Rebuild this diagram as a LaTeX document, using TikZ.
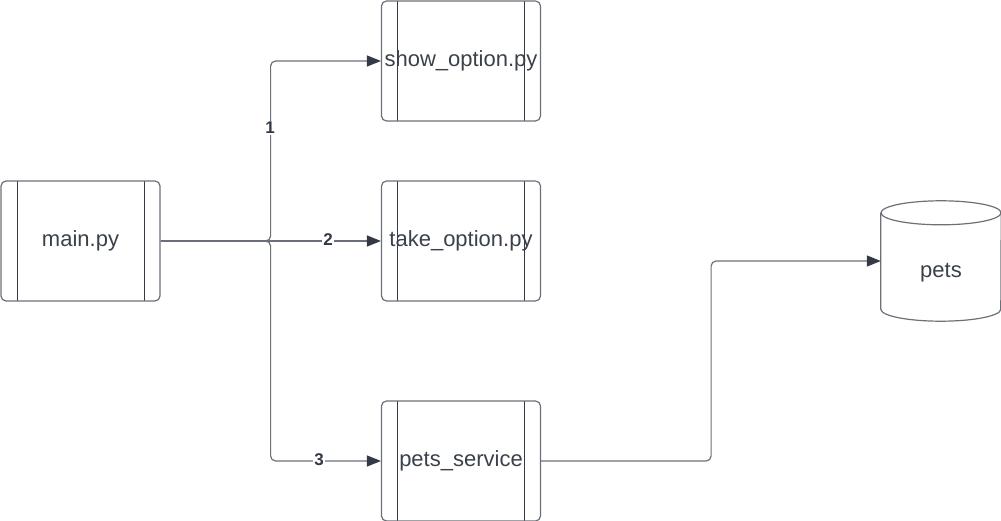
\documentclass[tikz,border=0pt]{standalone}
\usepackage{fontspec}
\setmainfont{Liberation Sans}
\usetikzlibrary{arrows.meta}

\definecolor{linegray}{HTML}{6B7078}
\definecolor{inkdark}{HTML}{333A45}
\definecolor{textgray}{HTML}{3A414B}

\tikzset{
  module/.style={draw=linegray, line width=1.2pt, rounded corners=5pt,
    minimum width=159pt, minimum height=120pt, inner sep=0pt,
    text=textgray, font=\fontsize{22}{26}\selectfont,
    path picture={
      \draw[inkdark, line width=0.9pt]
        ([xshift=16pt]path picture bounding box.north west) --
        ([xshift=16pt]path picture bounding box.south west);
      \draw[inkdark, line width=0.9pt]
        ([xshift=-16pt]path picture bounding box.north east) --
        ([xshift=-16pt]path picture bounding box.south east);
    }},
  store/.style={minimum width=120pt, minimum height=120pt, inner sep=0pt,
    text=textgray, font=\fontsize{22}{26}\selectfont},
  rim/.style={draw=linegray, line width=1.2pt},
  link/.style={draw=linegray, line width=1.2pt, rounded corners=5pt,
    -{Triangle[length=14pt,width=11pt,fill=inkdark,color=inkdark]}},
  tag/.style={fill=white, inner sep=1pt, text=inkdark,
    font=\fontsize{17}{20}\selectfont\bfseries}
}

\begin{document}
\begin{tikzpicture}[x=1pt, y=-1pt]
    \useasboundingbox (0, 0) rectangle (1001, 521);

    \node [module] (main) at (80.5, 241) {main.py};
    \node [module] (show) at (461, 61) {show\_option.py};
    \node [module] (take) at (461, 241) {take\_option.py};
    \node [module] (svc) at (461, 461) {pets\_service};
    \node [store] (pets) at (941, 261) {\raisebox{-17pt}[0pt][0pt]{pets}};

    % cylinder outline round the pets node
    \draw [rim] ([yshift=-12pt]pets.north) ellipse [x radius=60pt, y radius=12pt];
    \draw [rim] ([yshift=-12pt]pets.north west) -- ([yshift=12pt]pets.south west)
      arc [start angle=180, end angle=360, x radius=60pt, y radius=12pt]
      -- ([yshift=-12pt]pets.north east);

    \draw [link] (main.east) -- ++(110, 0) |- (show.west);
    \draw [link] (main.east) -- (take.west);
    \draw [link] (main.east) -- ++(110, 0) |- (svc.west);
    \draw [link] (svc.east) -- ++(170, 0) |- (pets.west);

    \node [tag] (one) at (270, 128) {1};
    \node [tag] (two) at (328, 240) {2};
    \node [tag] (three) at (319, 460) {3};
  \end{tikzpicture}
\end{document}
